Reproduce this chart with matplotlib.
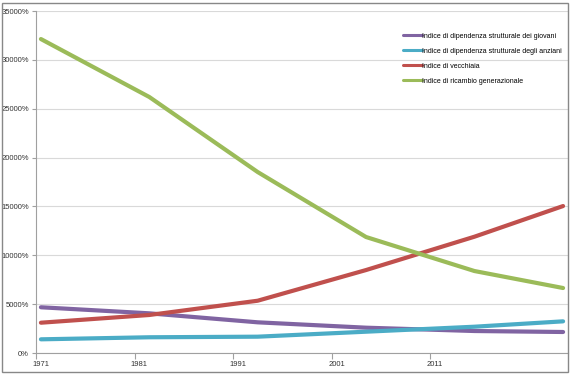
import matplotlib

matplotlib.use("Agg")

import matplotlib.pyplot as plt  # noqa: E402
from matplotlib.patches import Rectangle  # noqa: E402
from matplotlib.ticker import FixedLocator, FuncFormatter  # noqa: E402

plt.rcParams["font.family"] = ["Liberation Sans", "DejaVu Sans"]

years = [1971, 1982, 1993, 2004, 2015, 2024]
giovani = [4680, 4060, 3140, 2590, 2250, 2150]
anziani = [1400, 1610, 1670, 2180, 2690, 3240]
vecchiaia = [3100, 3890, 5350, 8490, 11900, 15040]
ricambio = [32130, 26200, 18520, 11870, 8390, 6650]

labels = [
    "Indice di dipendenza strutturale dei giovani",
    "Indice di dipendenza strutturale degli anziani",
    "Indice di vecchiaia",
    "Indice di ricambio generazionale",
]
colors = ["#8064A2", "#4BACC6", "#C0504D", "#9BBB59"]
tick_years = [1971, 1981, 1991, 2001, 2011]

fig = plt.figure(figsize=(5.71, 3.75), dpi=100)
ax = fig.add_axes([36 / 571, 22 / 375, 532 / 571, 342 / 375])

for series, label, color in zip([giovani, anziani, vecchiaia, ricambio], labels, colors):
    ax.plot(years, series, color=color, lw=3.0, label=label, solid_capstyle="round")

ax.set_xlim(1970.5, 2024.5)
ax.set_ylim(0, 35000)
ax.yaxis.set_major_locator(FixedLocator(range(0, 35001, 5000)))
ax.yaxis.set_major_formatter(FuncFormatter(lambda v, p: f"{int(v)}%"))
ax.grid(axis="y", color="#D9D9D9", lw=0.8)
ax.set_axisbelow(True)

# tick marks between categories, labels at category centres
ax.set_xticks([y - 0.5 for y in tick_years])
ax.set_xticklabels([])
ax.set_xticks(tick_years, minor=True)
ax.set_xticklabels([str(y) for y in tick_years], minor=True)
ax.tick_params(axis="x", which="major", length=4, color="#A0A0A0", direction="out")
ax.tick_params(axis="x", which="minor", length=0, labelsize=5.5, pad=6, colors="#333333")
ax.tick_params(axis="y", length=3, color="#A0A0A0", labelsize=5.5, pad=2, colors="#333333")

for side in ["top", "right"]:
    ax.spines[side].set_visible(False)
for side in ["left", "bottom"]:
    ax.spines[side].set_color("#A0A0A0")
    ax.spines[side].set_linewidth(0.8)

leg = ax.legend(loc="upper left", bbox_to_anchor=(0.684, 0.945), frameon=False,
                fontsize=5.0, handlelength=2.8, handletextpad=0.05, labelspacing=1.15,
                borderaxespad=0)
for line in leg.get_lines():
    line.set_linewidth(2.2)

fig.patches.append(Rectangle((2 / 571, 3 / 375), 566 / 571, 369 / 375,
                             transform=fig.transFigure, fill=False,
                             edgecolor="#888888", lw=1.0))

fig.savefig("out.png", dpi=100)
